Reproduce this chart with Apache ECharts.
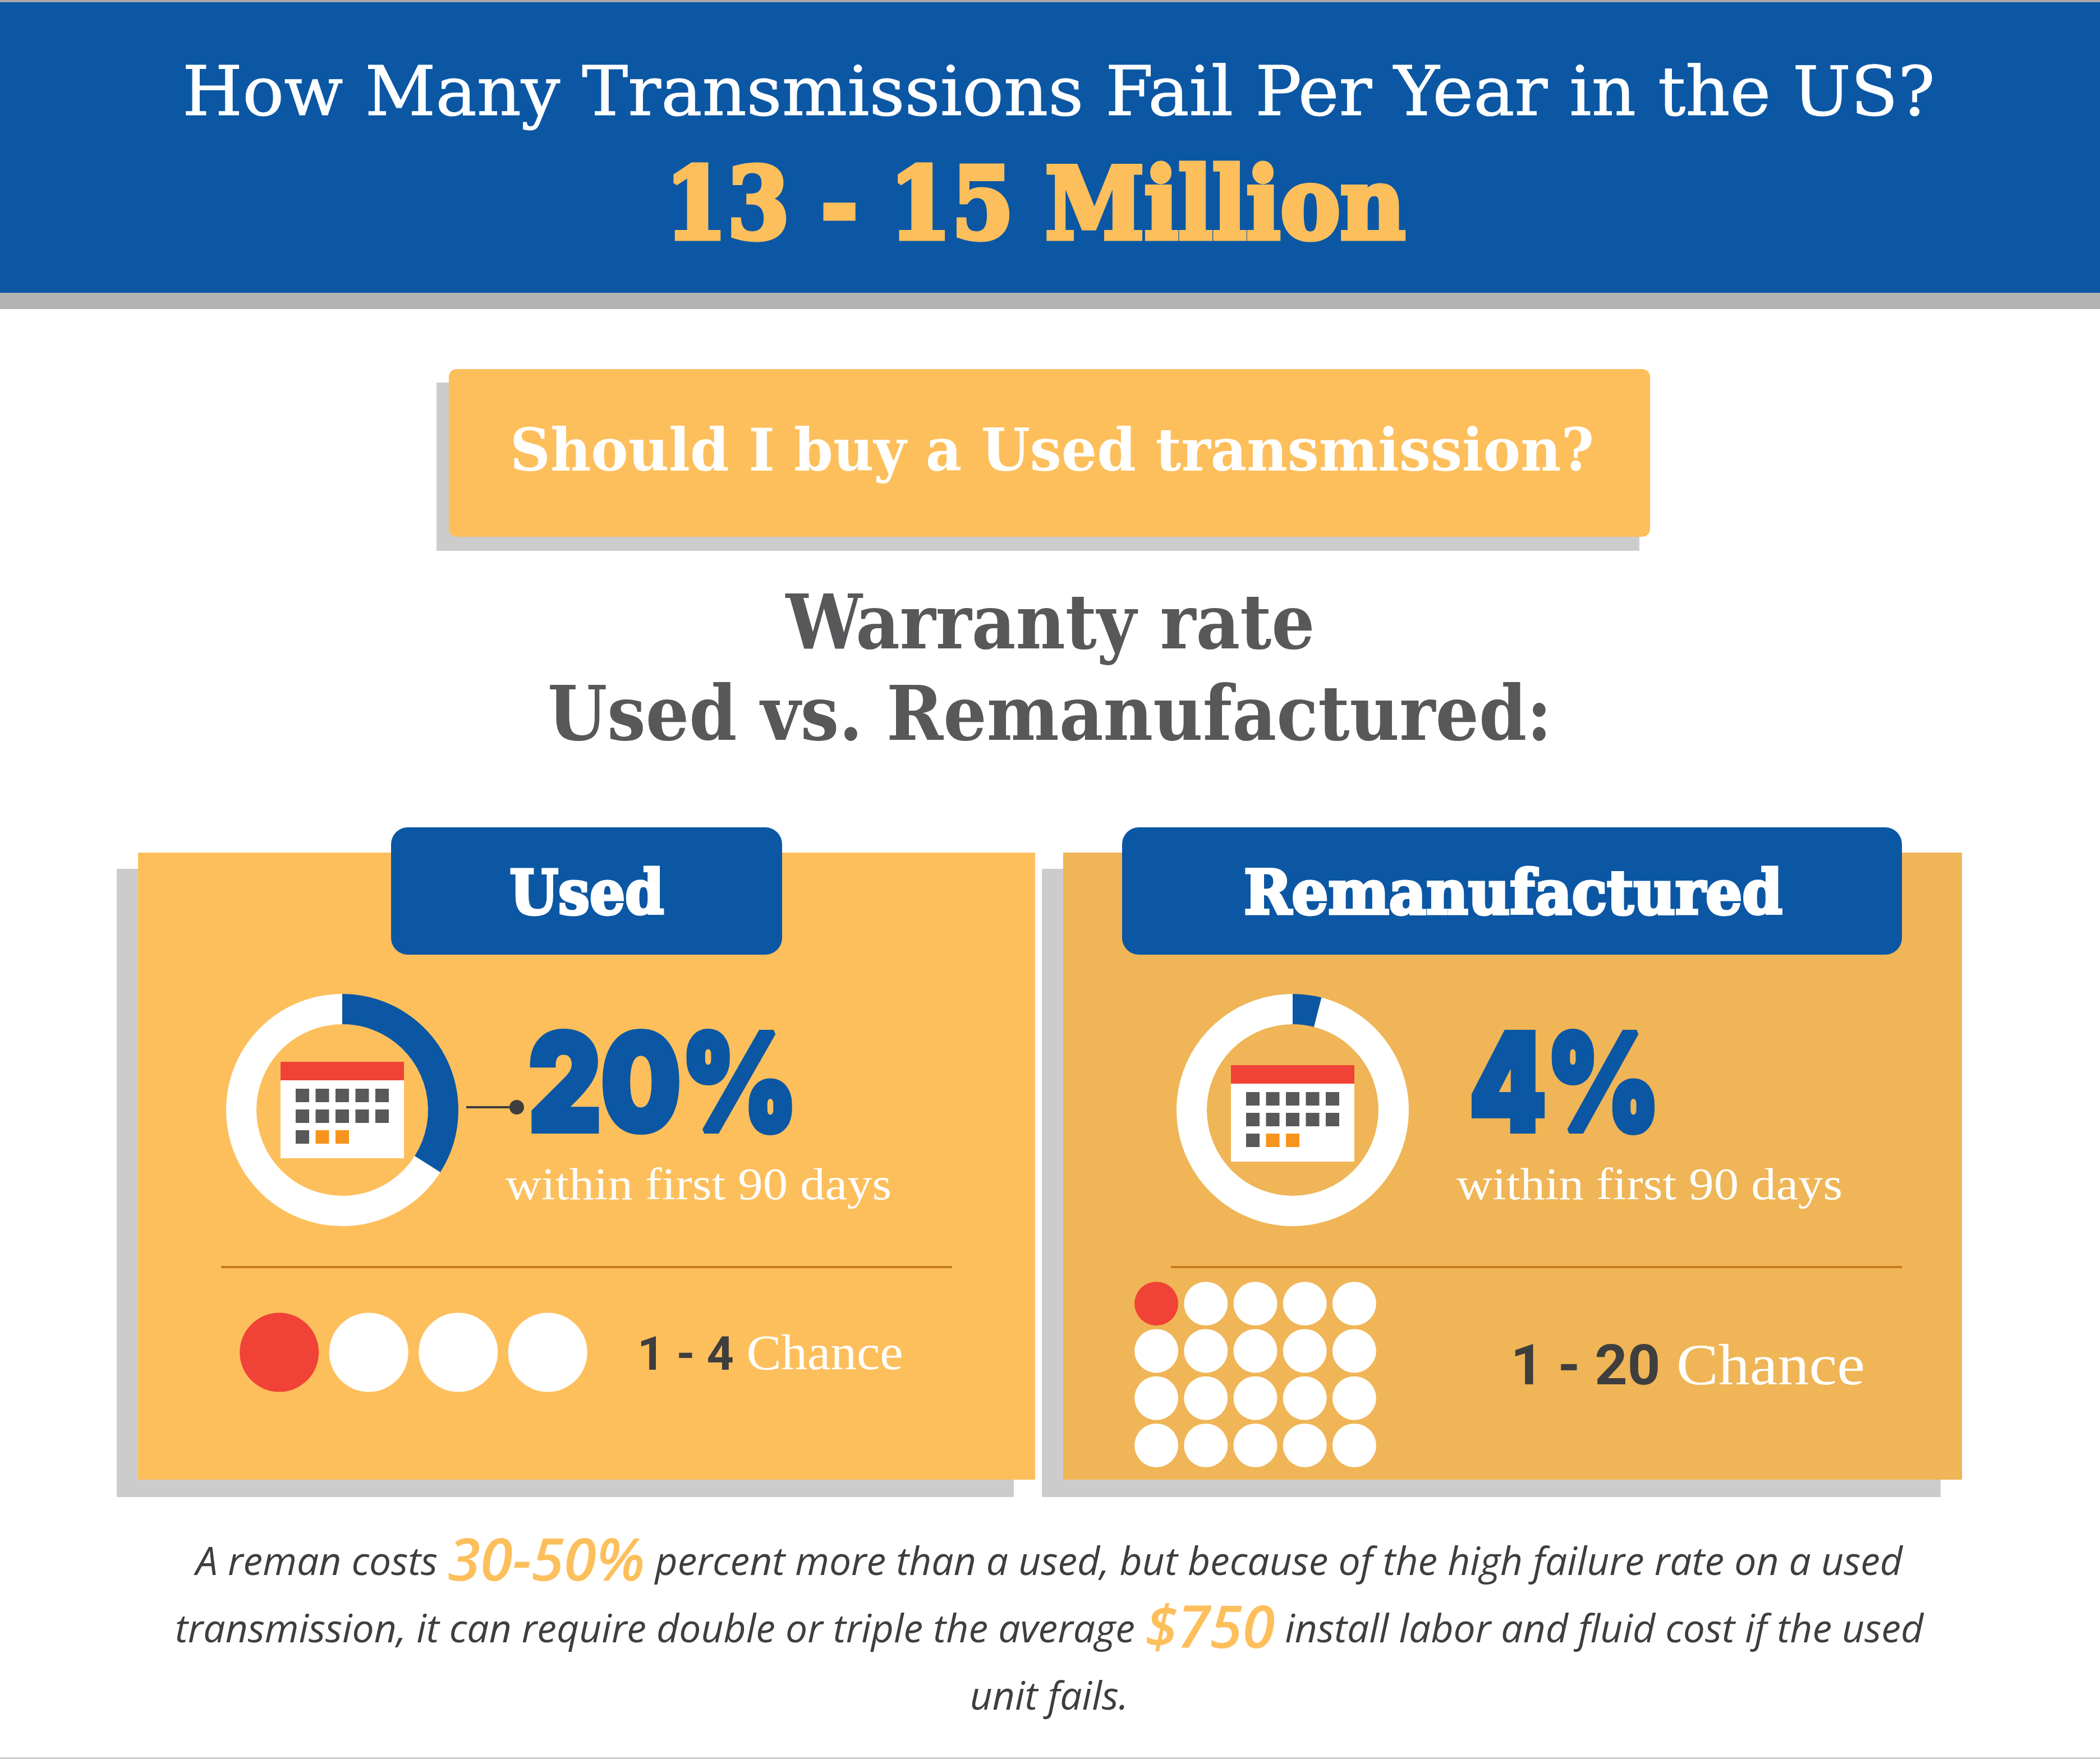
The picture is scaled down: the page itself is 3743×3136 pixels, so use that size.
<!DOCTYPE html>
<html>
<head>
<meta charset="utf-8">
<title>How Many Transmissions Fail Per Year in the US?</title>
<script src="https://cdn.jsdelivr.net/npm/echarts@6/dist/echarts.min.js"></script>
<style>
	html, body { margin: 0; padding: 0; background: #fff; }
	#main { width: 3743px; height: 3136px; }
</style>
</head>
<body>
<div id="main"></div>
<script>
// values
var headerQuestion = 'How Many Transmissions Fail Per Year in the US?';
var headerAnswer = '13 - 15 Million';
var subQuestion = 'Should I buy a Used transmission?';
var sectionLines = ['Warranty rate', 'Used vs. Remanufactured:'];
var panelNames = ['Used', 'Remanufactured'];
var rateLabels = ['20%', '4%'];
var rateNote = 'within first 90 days';
var chanceLabels = ['1 - 4', '1 - 20'];
var chanceWord = 'Chance';

// the ring of the used panel is drawn wider than its 20% label in the original
var usedRing = [34, 66];
var remanRing = [4, 96];

// 1 = the red dot
var usedDots = [[1, 0, 0, 0]];
var remanDots = [
	[1, 0, 0, 0, 0],
	[0, 0, 0, 0, 0],
	[0, 0, 0, 0, 0],
	[0, 0, 0, 0, 0]
];

var BLUE = '#0B57A4';
var GOLD = '#FDBF5C';
var GOLD2 = '#EFB556';
var SHADOW = '#CCCCCC';
var RED = '#F04237';
var DARK = '#3E3E3E';
var SLAB = '"DejaVu Serif Condensed", "DejaVu Serif", serif';
var SLABWIDE = '"DejaVu Serif", serif';
var LIGHT = '"Liberation Serif", serif';

var chart = echarts.init(document.getElementById('main'));

var measure = document.createElement('canvas').getContext('2d');

function rect(x, y, w, h, fill, r) {
	return {type: 'rect', silent: true, shape: {x: x, y: y, width: w, height: h, r: r || 0}, style: {fill: fill}};
}

// text placed by its centre and baseline, stretched to the wanted width
function fitText(str, font, fill, cx, base, width, heavy) {
	measure.font = font;
	measure.textBaseline = 'middle';
	var offset = measure.measureText('H').actualBoundingBoxDescent;
	var w = measure.measureText(str).width;
	return {
		type: 'text', silent: true, x: cx, y: base - offset, scaleX: width / w,
		style: {
			text: str, font: font, fill: fill, align: 'center', verticalAlign: 'middle',
			stroke: heavy ? fill : null, lineWidth: heavy || 0
		}
	};
}

function calendar(x, y) {
	var items = [rect(x, y, 220, 172, '#fff'), rect(x, y, 220, 33, RED)];
	var colsPerRow = [5, 5, 3];
	for (var r = 0; r < colsPerRow.length; r++) {
		for (var c = 0; c < colsPerRow[r]; c++) {
			var orange = r == 2 && c > 0;
			items.push(rect(x + 27 + c * 35.5, y + 48 + r * 37, 24, 24, orange ? '#F7941E' : '#58595B'));
		}
	}
	return items;
}

var graphics = [
	rect(0, 0, 3743, 522, BLUE),
	rect(0, 0, 3743, 4, '#A9A9A9'),
	rect(0, 522, 3743, 29, '#B2B2B2'),
	rect(0, 3133, 3743, 3, SHADOW),

	rect(778, 682, 2144, 300, SHADOW),
	rect(800, 658, 2141, 299, GOLD, 14),

	rect(208, 1549, 1599, 1120, SHADOW),
	rect(246, 1520, 1599, 1118, GOLD),
	rect(1857, 1549, 1602, 1120, SHADOW),
	rect(1895, 1520, 1602, 1118, GOLD2),
	rect(697, 1475, 697, 227, BLUE, 30),
	rect(2000, 1475, 1390, 227, BLUE, 30),

	rect(394, 2257, 1303, 4, '#C87A1E'),
	rect(2087, 2257, 1303, 4, '#C87A1E'),

	rect(831, 1972, 80, 4, DARK),
	{type: 'circle', silent: true, shape: {cx: 921, cy: 1974, r: 13}, style: {fill: DARK}},

	fitText(headerQuestion, '400 122px ' + SLAB, '#fff', 1887, 205, 3124, 1),
	fitText(headerAnswer, '700 176px ' + SLABWIDE, GOLD, 1845, 425, 1320, 9),
	fitText(subQuestion, '700 104px ' + SLAB, '#fff', 1875, 839, 1932),
	fitText(sectionLines[0], '700 134px ' + SLAB, '#58585A', 1872, 1156, 943),
	fitText(sectionLines[1], '700 134px ' + SLAB, '#58585A', 1871, 1319, 1790),
	fitText(panelNames[0], '700 108px ' + SLABWIDE, '#fff', 1046, 1629, 275, 5),
	fitText(panelNames[1], '700 108px ' + SLABWIDE, '#fff', 2697, 1629, 960, 5),

	fitText(rateLabels[0], '900 240px Inter, Roboto, sans-serif', BLUE, 1182, 2016, 480, 10),
	fitText(rateLabels[1], '900 240px Inter, Roboto, sans-serif', BLUE, 2789, 2016, 340, 10),
	fitText(rateNote, '400 80px ' + LIGHT, '#fff', 1245, 2138, 688),
	fitText(rateNote, '400 80px ' + LIGHT, '#fff', 2940, 2138, 688),

	fitText(chanceLabels[0], '700 84px Roboto, sans-serif', DARK, 1222, 2442, 172),
	fitText(chanceWord, '400 88px ' + LIGHT, '#fff', 1470, 2442, 279),
	fitText(chanceLabels[1], '700 100px Roboto, sans-serif', DARK, 2826, 2468, 267),
	fitText(chanceWord, '400 104px ' + LIGHT, '#fff', 3156, 2468, 336)
];

graphics = graphics.concat(calendar(500, 1893), calendar(2194, 1899));

var bodyRich = {
	t: {font: 'italic 400 69.6px "Open Sans", sans-serif', fill: DARK},
	h: {font: 'italic 600 105px "Open Sans", sans-serif', fill: GOLD}
};
function bodyLine(str, base) {
	return {
		type: 'text', silent: true, x: 1870, y: base,
		style: {text: str, rich: bodyRich, align: 'center', verticalAlign: 'bottom'}
	};
}
graphics.push(
	bodyLine('{t|A reman costs }{h|30-50%}{t| percent more than a used, but because of the high failure rate on a used}', 2841),
	bodyLine('{t|transmission, it can require double or triple the average }{h|$750}{t| install labor and fluid cost if the used}', 2961),
	bodyLine('{t|unit fails.}', 3063)
);

function ring(values, cx, cy) {
	return {
		type: 'pie', silent: true, center: [cx, cy], radius: [153, 207], startAngle: 90,
		clockwise: true, label: {show: false}, labelLine: {show: false}, animation: false,
		data: [
			{value: values[0], name: 'failed', itemStyle: {color: BLUE}},
			{value: values[1], name: 'rest', itemStyle: {color: '#fff'}}
		]
	};
}

function dotSeries(rows, index, size) {
	var data = [];
	rows.forEach(function (row, y) {
		row.forEach(function (hit, x) {
			data.push({value: [x, y], itemStyle: {color: hit ? RED : '#fff', opacity: 1}});
		});
	});
	return {
		type: 'scatter', silent: true, xAxisIndex: index, yAxisIndex: index, clip: false,
		symbolSize: size, data: data, animation: false
	};
}

function hiddenAxis(gridIndex, max, inverse) {
	return {type: 'value', show: false, gridIndex: gridIndex, min: -0.5, max: max, inverse: !!inverse};
}

var option = {
	backgroundColor: '#fff',
	animation: false,
	tooltip: {show: false},
	graphic: {elements: graphics},
	grid: [
		{left: 418, top: 2331, width: 638, height: 160},
		{left: 2017, top: 2282, width: 441, height: 337}
	],
	xAxis: [hiddenAxis(0, 3.5), hiddenAxis(1, 4.5)],
	yAxis: [hiddenAxis(0, 0.5, true), hiddenAxis(1, 3.5, true)],
	series: [
		ring(usedRing, 610, 1979),
		ring(remanRing, 2304, 1979),
		dotSeries(usedDots, 0, 141),
		dotSeries(remanDots, 1, 78)
	]
};

chart.setOption(option);
</script>
</body>
</html>
